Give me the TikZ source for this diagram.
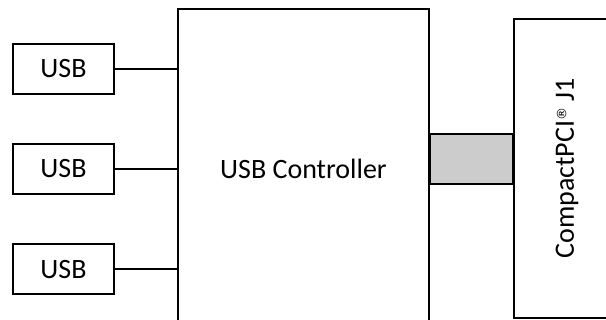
\documentclass[tikz,border=0pt]{standalone}
\usepackage{fontspec}
\setmainfont{Carlito}
\newfontfamily\regfont{DejaVu Sans}
\usetikzlibrary{positioning}

\tikzset{
  blk/.style={draw,line width=2pt,inner sep=0pt,fill=white},
  usbbox/.style={blk,minimum width=101pt,minimum height=50pt},
  link/.style={line width=2pt}
}

\begin{document}
\begin{tikzpicture}[x=1pt,y=-1pt,every node/.style={font=\fontsize{28}{32}\selectfont}]
  \useasboundingbox (0,0) rectangle (606,320);
  % controller and backplane connector
  \node[blk,minimum width=251pt,minimum height=320pt] (ctrl) at (303.5,169) {USB Controller};
  \node[blk,minimum width=106pt,minimum height=299pt] (cpci) at (567,168.5) {};
  \node[rotate=90] (cpcitxt) at (cpci.center)
    {CompactPCI\raisebox{7.5pt}{\fontsize{13}{13}\selectfont\regfont ®} J1};
  \draw[blk,fill=gray!40] (ctrl.east |- 0,134) rectangle (cpci.west |- 0,184);
  % usb ports
  \foreach \i/\y in {1/69,2/169,3/269.5}{
    \node[usbbox] (usb\i) at (63.5,\y) {USB};
    \draw[link] (usb\i.east) -- (usb\i.east -| ctrl.west);
  }
\end{tikzpicture}
\end{document}
